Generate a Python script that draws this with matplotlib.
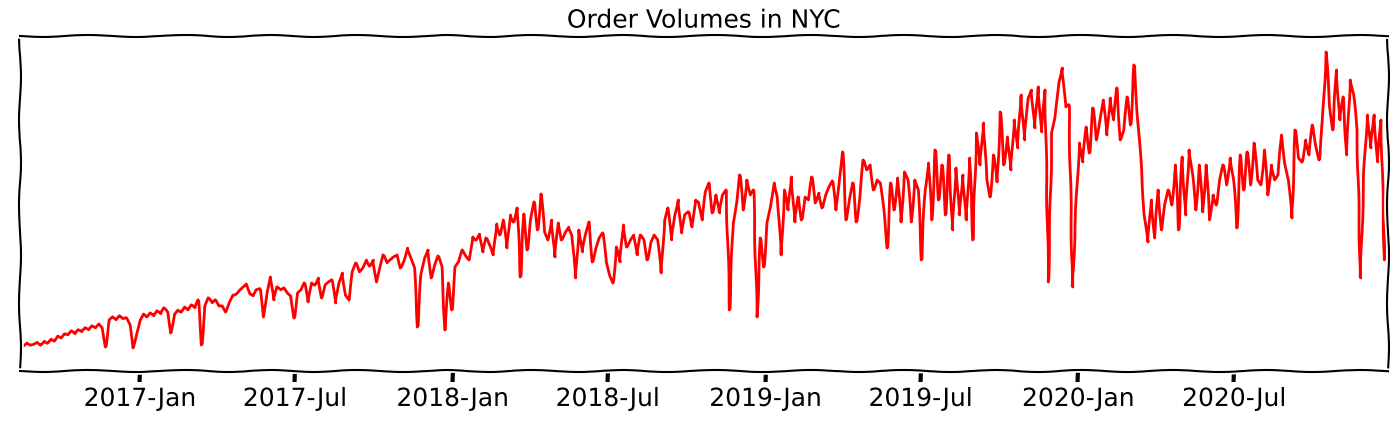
import matplotlib
matplotlib.use("Agg")
import matplotlib.pyplot as plt
import matplotlib.dates as mdates
import numpy as np
import pandas as pd

# daily order volume, every 4 days (arbitrary units)
start_date = "2016-08-14"
step = "4D"
orders = [
    36, 34, 37, 35, 36, 38, 35, 39, 37, 41,
    39, 44, 42, 46, 45, 49, 46, 50, 48, 52,
    50, 54, 52, 56, 52, 33, 60, 63, 60, 64,
    61, 62, 55, 32, 47, 60, 66, 63, 67, 64,
    69, 66, 72, 68, 47, 66, 70, 68, 73, 70,
    75, 72, 80, 35, 74, 82, 77, 80, 74, 74,
    68, 78, 85, 86, 90, 93, 96, 86, 84, 90,
    91, 63, 88, 103, 80, 93, 90, 92, 87, 84,
    62, 87, 90, 97, 78, 97, 95, 102, 82, 95,
    98, 100, 77, 97, 107, 85, 80, 108, 117, 108,
    112, 120, 114, 120, 98, 112, 125, 117, 120, 123,
    125, 112, 120, 132, 122, 112, 53, 105, 122, 130,
    102, 115, 124, 113, 50, 97, 70, 113, 118, 130,
    124, 120, 143, 140, 146, 128, 142, 134, 125, 156,
    145, 160, 132, 165, 158, 172, 103, 166, 130, 160,
    178, 150, 186, 148, 140, 160, 123, 157, 140, 148,
    153, 145, 102, 150, 128, 145, 158, 118, 132, 142,
    147, 118, 105, 97, 133, 118, 155, 133, 140, 145,
    125, 145, 140, 120, 138, 145, 140, 107, 160, 172,
    140, 165, 180, 147, 165, 168, 153, 180, 178, 160,
    188, 197, 167, 185, 167, 185, 190, 70, 157, 178,
    205, 170, 200, 185, 190, 63, 142, 113, 157, 173,
    197, 183, 125, 190, 170, 203, 158, 183, 160, 183,
    180, 203, 177, 187, 172, 185, 193, 199, 170, 203,
    228, 160, 180, 197, 158, 183, 220, 210, 215, 190,
    200, 197, 167, 132, 197, 170, 202, 158, 208, 200,
    158, 200, 190, 120, 190, 217, 160, 230, 180, 215,
    165, 225, 150, 212, 165, 205, 160, 222, 140, 247,
    215, 257, 200, 183, 225, 198, 268, 215, 243, 210,
    260, 232, 285, 240, 282, 290, 252, 293, 248, 290,
    98, 247, 262, 298, 312, 273, 275, 93, 170, 237,
    218, 253, 227, 272, 240, 262, 280, 245, 282, 260,
    292, 240, 250, 283, 255, 315, 265, 215, 165, 138,
    180, 142, 190, 150, 175, 190, 175, 215, 150, 223,
    165, 230, 205, 170, 215, 168, 215, 160, 185, 175,
    200, 215, 195, 222, 200, 152, 225, 190, 228, 195,
    237, 200, 195, 230, 185, 215, 200, 205, 245, 217,
    200, 162, 250, 222, 218, 240, 225, 255, 235, 220,
    260, 328, 275, 250, 310, 260, 283, 225, 300, 285,
    250, 102, 205, 265, 232, 265, 218, 260, 120, 190,
]
dates = pd.date_range(start_date, periods=len(orders), freq=step)

plt.xkcd()
plt.rcParams['font.family'] = ['DejaVu Sans']

fig = plt.figure(figsize=(14, 4.28), dpi=100)
ax = fig.add_axes([0.0143, 0.1332, 0.977, 0.7828])

line, = ax.plot(dates, orders, color='red')
# keep the spikes sharp, only a light wobble on the data line
line.set_sketch_params(0.4, 100, 2)

ax.set_title("Order Volumes in NYC", fontsize=18)
ax.set_xlim(dates[0], dates[-1])
ax.set_ylim(9, 344)
ax.set_yticks([])

ax.xaxis.set_major_locator(mdates.MonthLocator(bymonth=[1, 7]))
ax.xaxis.set_major_formatter(mdates.DateFormatter('%Y-%b'))
ax.tick_params(axis='x', labelsize=18)

fig.savefig("out.png", dpi=100)
